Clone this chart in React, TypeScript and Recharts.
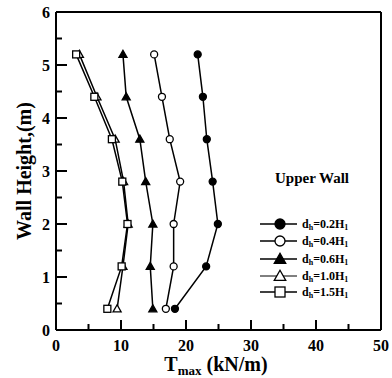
import React from 'react';
import { LineChart, Line, XAxis, YAxis, ReferenceLine, Legend } from 'recharts';

const heights = [0.4, 1.2, 2.0, 2.8, 3.6, 4.4, 5.2];
const s02 = [18.3, 23.1, 24.9, 24.1, 23.2, 22.6, 21.8];
const s04 = [16.9, 18.1, 18.1, 19.1, 17.5, 16.3, 15.1];
const s06 = [14.9, 14.5, 14.9, 13.8, 12.9, 10.8, 10.3];
const s10 = [9.4, 10.3, 11.1, 10.4, 9.1, 6.3, 3.6];
const s15 = [7.9, 10.1, 11.0, 10.2, 8.6, 5.9, 3.1];
const seriesLabels = ['0.2', '0.4', '0.6', '1.0', '1.5'];
const xTicks = [0, 5, 10, 15, 20, 25, 30, 35, 40, 45, 50];
const yTicks = [0, 0.5, 1, 1.5, 2, 2.5, 3, 3.5, 4, 4.5, 5, 5.5, 6];

const FONT = '"Liberation Serif", "Times New Roman", serif';

type Shape = 'circle' | 'triangle' | 'square';
const series: { values: number[]; shape: Shape; filled: boolean; label: string }[] = [
  { values: s02, shape: 'circle', filled: true, label: seriesLabels[0] },
  { values: s04, shape: 'circle', filled: false, label: seriesLabels[1] },
  { values: s06, shape: 'triangle', filled: true, label: seriesLabels[2] },
  { values: s10, shape: 'triangle', filled: false, label: seriesLabels[3] },
  { values: s15, shape: 'square', filled: false, label: seriesLabels[4] },
];

const Marker = ({ cx, cy, shape, filled, size }: { cx: number; cy: number; shape: Shape; filled: boolean; size: number }) => {
  const fill = filled ? '#000' : '#fff';
  if (shape === 'circle') return <circle cx={cx} cy={cy} r={size} fill={fill} stroke="#000" strokeWidth={1.3} />;
  if (shape === 'triangle') {
    const s = size * 1.15;
    return (
      <polygon
        points={`${cx},${cy - s} ${cx - s},${cy + s * 0.75} ${cx + s},${cy + s * 0.75}`}
        fill={fill}
        stroke="#000"
        strokeWidth={1.3}
      />
    );
  }
  return <rect x={cx - size} y={cy - size} width={size * 2} height={size * 2} fill={fill} stroke="#000" strokeWidth={1.3} />;
};

const XTick = (p: any) => {
  const { x, y, payload } = p;
  const v = payload.value;
  const major = v % 10 === 0;
  return (
    <g>
      <line x1={x} x2={x} y1={y} y2={y - (major ? 10 : 6)} stroke="#000" strokeWidth={2} />
      {major && (
        <text x={x} y={y + 21} textAnchor="middle" fontFamily={FONT} fontWeight="bold" fontSize={16} fill="#000">
          {v}
        </text>
      )}
    </g>
  );
};

const YTick = (p: any) => {
  const { x, y, payload } = p;
  const v = payload.value;
  const major = Number.isInteger(v);
  return (
    <g>
      <line x1={x} x2={x + (major ? 11 : 6)} y1={y} y2={y} stroke="#000" strokeWidth={2} />
      {major && (
        <text x={x - 6} y={y + 5.5} textAnchor="end" fontFamily={FONT} fontWeight="bold" fontSize={16} fill="#000">
          {v}
        </text>
      )}
    </g>
  );
};

const YTitle = (p: any) => {
  const vb = p.viewBox || { x: 0, y: 12, width: 56, height: 318 };
  const cx = 24;
  const cy = vb.y + vb.height / 2;
  return (
    <text
      x={cx}
      y={cy}
      transform={`rotate(-90, ${cx}, ${cy})`}
      textAnchor="middle"
      dominantBaseline="central"
      fontFamily={FONT}
      fontWeight="bold"
      fontSize={20}
      fill="#000"
    >
      Wall Height,(m)
    </text>
  );
};

const XTitle = (p: any) => {
  const vb = p.viewBox || { x: 56, y: 330, width: 325, height: 48 };
  return (
    <text x={216} y={vb.y + 41} textAnchor="middle" fontFamily={FONT} fontWeight="bold" fontSize={20} fill="#000">
      T
      <tspan fontSize={13} dy={4}>max</tspan>
      <tspan dy={-4}> (kN/m)</tspan>
    </text>
  );
};

const LegendContent = () => {
  const rowY = [59, 76, 94, 111, 127];
  return (
    <svg width={130} height={140} style={{ display: 'block', overflow: 'visible' }}>
      <text x={62} y={18} textAnchor="middle" fontFamily={FONT} fontWeight="bold" fontSize={15} fill="#000">
        Upper Wall
      </text>
      {series.map((s, i) => (
        <g key={i}>
          <line x1={10} x2={47} y1={rowY[i]} y2={rowY[i]} stroke="#000" strokeWidth={i === 3 ? 1 : 1.5} />
          <Marker cx={30} cy={rowY[i]} shape={s.shape} filled={s.filled} size={5} />
          <text x={52} y={rowY[i] + 4} fontFamily={FONT} fontWeight="bold" fontSize={12} fill="#000">
            d<tspan fontSize={8} dy={2}>h</tspan>
            <tspan dy={-2}>={s.label}H</tspan>
            <tspan fontSize={8} dy={2}>1</tspan>
          </text>
        </g>
      ))}
    </svg>
  );
};

export default function App() {
  return (
    <div style={{ position: 'absolute', left: 0, top: 0, background: '#fff' }}>
      <LineChart width={392} height={378} margin={{ top: 12, right: 11, bottom: 0, left: 0 }}>
        <XAxis
          type="number"
          dataKey="x"
          domain={[0, 50]}
          ticks={xTicks}
          interval={0}
          tickSize={0}
          tickMargin={0}
          tickLine={false}
          tick={<XTick />}
          height={48}
          axisLine={{ stroke: '#000', strokeWidth: 2 }}
          label={<XTitle />}
          allowDataOverflow
        />
        <YAxis
          type="number"
          dataKey="y"
          domain={[0, 6]}
          ticks={yTicks}
          interval={0}
          tickSize={0}
          tickMargin={0}
          tickLine={false}
          tick={<YTick />}
          width={56}
          axisLine={{ stroke: '#000', strokeWidth: 2 }}
          label={<YTitle />}
          allowDataOverflow
        />
        <ReferenceLine y={6} stroke="#000" strokeWidth={2} />
        <ReferenceLine x={50} stroke="#000" strokeWidth={2} />
        <Legend
          layout="horizontal"
          verticalAlign="middle"
          align="center"
          content={<LegendContent />}
          wrapperStyle={{ position: 'absolute', left: 250, top: 165, width: 130, height: 140 }}
        />
        {series.map((s, i) => (
          <Line
            key={i}
            data={heights.map((h, j) => ({ x: s.values[j], y: h }))}
            dataKey="y"
            stroke="#000"
            strokeWidth={1.5}
            isAnimationActive={false}
            dot={(props: any) => (
              <Marker key={`d${i}-${props.index}`} cx={props.cx} cy={props.cy} shape={s.shape} filled={s.filled} size={3.5} />
            )}
            activeDot={false}
          />
        ))}
      </LineChart>
    </div>
  );
}
